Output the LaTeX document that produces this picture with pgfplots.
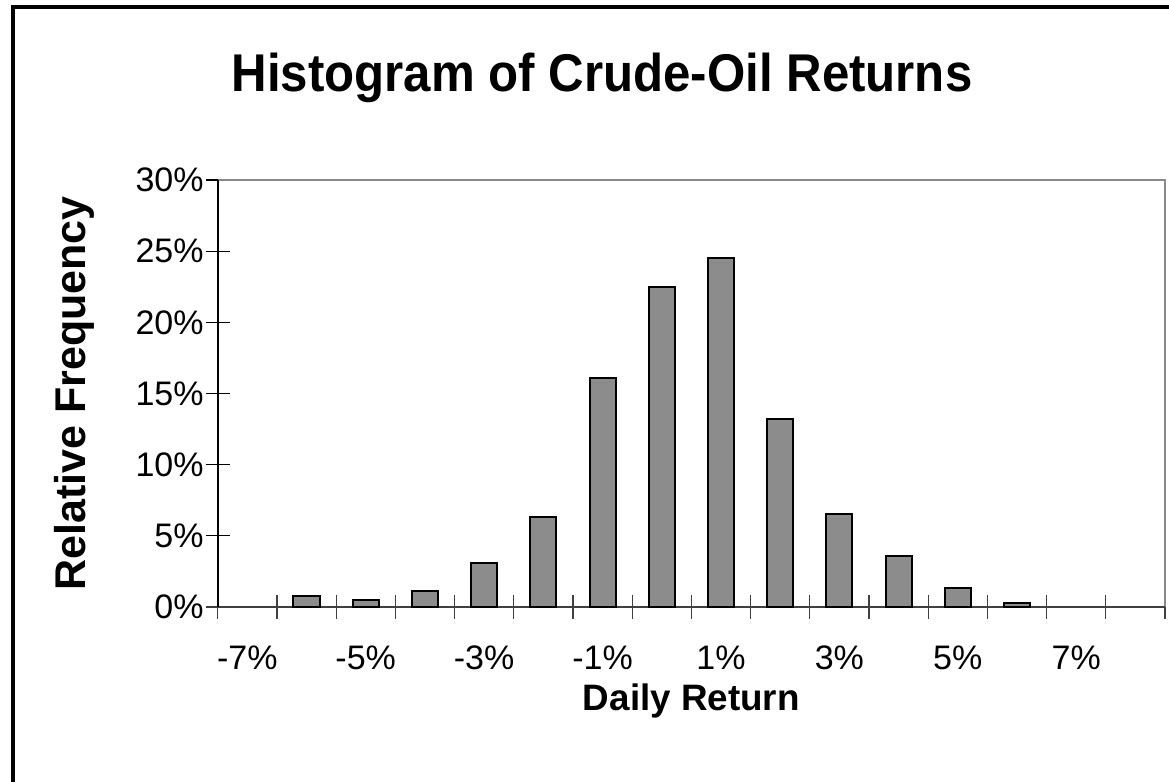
\documentclass[border=0pt]{standalone}
\usepackage{pgfplots}
\pgfplotsset{compat=1.18}
\usepackage{fontspec}
\setmainfont{Liberation Sans}
\definecolor{barfill}{HTML}{8C8C8C}
\definecolor{framegray}{HTML}{888888}
\definecolor{axisdark}{HTML}{404040}
\pgfplotstableread{
bin val
1 0.8
2 0.5
3 1.1
4 3.1
5 6.3
6 16.1
7 22.5
8 24.5
9 13.2
10 6.5
11 3.6
12 1.3
13 0.3
}\datatable
\begin{document}
\begin{tikzpicture}
\useasboundingbox (0,0) rectangle (584.5pt,391pt);
\draw[line width=1.6pt] (6.5pt,-10pt) -- (6.5pt,387.5pt) -- (600pt,387.5pt);
\node[font=\fontsize{24.6}{28}\selectfont\bfseries, yscale=1.08] at (301pt,352pt) {Histogram of Crude-Oil Returns};
\begin{axis}[
  at={(108.85pt,87.5pt)}, anchor=south west,
  scale only axis, width=473.65pt, height=213.5pt,
  xmin=-0.5, xmax=15.5, ymin=0, ymax=30,
  axis line style={draw=none},
  clip=false,
  ybar, bar width=0.44, bar shift=0pt,
  xtick={0,2,...,14},
  xticklabels={-7\%,-5\%,-3\%,-1\%,1\%,3\%,5\%,7\%},
  minor xtick={-0.5,0.5,...,15.5},
  major x tick style={draw=none},
  minor x tick style={axisdark, line width=0.6pt},
  minor tick length=12pt,
  ytick={0,5,...,30},
  yticklabels={0\%,5\%,10\%,15\%,20\%,25\%,30\%},
  major tick length=12pt,
  y tick style={black, line width=0.6pt},
  tick align=center,
  xtick pos=bottom, ytick pos=left,
  tick label style={font=\fontsize{17}{19}\selectfont},
  xticklabel style={anchor=base, yshift=-25.5pt},
  yticklabel style={anchor=east, xshift=2.5pt},
  xlabel={Daily Return},
  ylabel={Relative Frequency},
  xlabel style={font=\fontsize{18.4}{21}\selectfont\bfseries, at={(rel axis cs:0.5,-0.2200)}, anchor=center},
  ylabel style={font=\fontsize{21.5}{24}\selectfont\bfseries, at={(rel axis cs:-0.151,0.5)}, anchor=center, rotate=0},
]
\draw[framegray, line width=1pt] (rel axis cs:0,1) -- (rel axis cs:1,1) -- (rel axis cs:1,0);
\draw[axisdark, line width=1pt] (rel axis cs:-0.012,0) -- (rel axis cs:1,0);
\draw[black, line width=1pt] (rel axis cs:0,0) -- (rel axis cs:0,1);
\addplot[fill=barfill, draw=black, line width=1pt] table[x=bin, y=val] {\datatable};
\end{axis}
\end{tikzpicture}
\end{document}
